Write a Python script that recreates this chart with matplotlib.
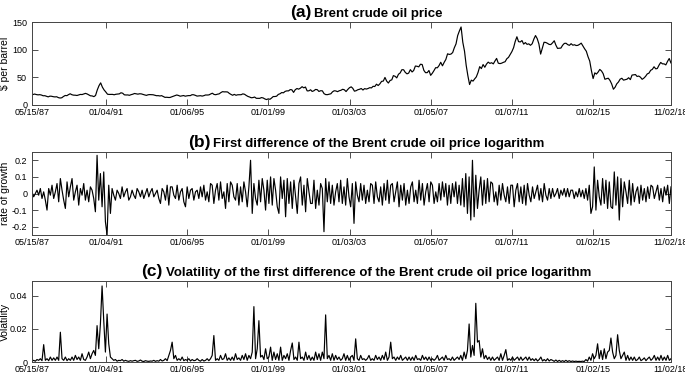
import matplotlib
matplotlib.use('Agg')
import matplotlib.pyplot as plt
import numpy as np
import pandas as pd
from matplotlib import font_manager
from matplotlib.offsetbox import TextArea, HPacker, AnchoredOffsetbox

names = {f.name for f in font_manager.fontManager.ttflist}
FONT = 'Liberation Sans' if 'Liberation Sans' in names else 'DejaVu Sans'

# (a) Brent price, monthly, $ per barrel (May 1987 .. Nov 2018)
price = [
    18.6, 18.9, 19.8, 18.9, 18.3, 18.7, 18.0, 16.7,
    16.8, 15.7, 14.7, 16.0, 15.8, 15.0, 14.6, 14.9, 13.3, 12.6, 13.1, 15.4,
    17.2, 16.9, 18.7, 20.3, 18.6, 17.8, 17.7, 17.2, 18.1, 19.1, 18.9, 19.9,
    21.0, 19.9, 18.4, 16.6, 16.4, 15.1, 17.2, 27.2, 34.9, 40.0, 32.3, 27.3,
    23.6, 19.5, 19.1, 19.2, 19.2, 18.5, 19.4, 19.7, 20.1, 22.1, 21.3, 18.4,
    18.1, 18.2, 17.5, 18.7, 19.5, 20.8, 20.2, 19.6, 20.3, 20.1, 19.1, 18.2,
    17.4, 18.5, 18.8, 18.6, 18.5, 17.7, 16.8, 16.9, 16.3, 16.9, 15.4, 13.8,
    14.0, 13.6, 13.6, 14.8, 16.0, 17.0, 18.1, 17.2, 15.9, 16.5, 17.1, 15.9,
    16.6, 17.0, 16.9, 18.6, 18.5, 17.4, 16.1, 16.4, 16.8, 16.1, 16.9, 18.1,
    18.0, 18.3, 19.9, 21.3, 19.1, 18.6, 19.5, 20.1, 22.4, 24.1, 23.7, 23.8,
    23.5, 20.9, 19.2, 17.6, 19.2, 17.6, 18.5, 18.6, 18.6, 20.1, 19.4, 17.3,
    15.5, 14.4, 13.1, 13.4, 14.4, 12.1, 12.0, 12.0, 13.4, 12.8, 11.0, 9.8,
    11.1, 10.3, 12.5, 15.3, 15.3, 15.9, 19.1, 20.3, 22.5, 22.0, 24.6, 25.5,
    25.5, 27.8, 27.5, 22.8, 27.6, 29.8, 28.6, 30.4, 33.1, 31.0, 32.5, 25.5,
    25.6, 27.5, 24.5, 25.7, 28.1, 27.7, 24.5, 25.8, 25.6, 20.5, 18.8, 18.7,
    19.4, 20.3, 23.7, 25.7, 25.4, 24.1, 25.7, 26.6, 28.4, 27.5, 24.3, 28.0,
    31.2, 32.8, 30.3, 25.0, 25.8, 27.6, 28.4, 29.8, 27.1, 29.6, 28.8, 29.8,
    31.3, 30.9, 33.8, 33.4, 37.6, 35.2, 38.2, 42.7, 43.2, 49.8, 43.1, 39.7,
    44.3, 45.5, 53.1, 51.9, 49.0, 55.6, 57.9, 63.8, 63.7, 59.0, 56.3, 57.6,
    63.9, 59.7, 62.3, 70.4, 70.0, 68.9, 73.7, 73.2, 62.5, 58.4, 58.5, 62.4,
    53.6, 57.6, 62.1, 67.5, 67.2, 71.3, 77.2, 70.8, 77.1, 82.3, 92.5, 91.4,
    92.0, 94.8, 103.3, 110.4, 125.5, 133.9, 141.0, 113.4, 97.2, 71.6, 52.5, 37.0,
    44.9, 43.2, 47.0, 50.8, 58.6, 69.3, 65.8, 73.1, 68.2, 73.9, 77.5, 75.2,
    76.4, 74.3, 79.3, 84.2, 75.6, 74.8, 75.6, 77.1, 78.2, 83.5, 86.1, 91.4,
    96.5, 103.7, 114.6, 123.3, 114.5, 113.9, 116.5, 110.1, 112.8, 109.6, 110.5, 107.9,
    110.7, 119.3, 125.5, 119.8, 110.3, 92.0, 102.6, 113.4, 113.0, 111.5, 109.5, 109.2,
    112.3, 116.1, 108.5, 102.3, 102.6, 102.9, 107.9, 111.3, 111.6, 109.1, 107.8, 110.8,
    108.1, 108.9, 107.5, 107.8, 109.5, 111.8, 106.8, 101.6, 97.1, 87.4, 79.4, 62.3,
    47.8, 58.1, 55.9, 59.5, 64.3, 61.5, 56.6, 46.5, 47.6, 48.4, 44.3, 38.0,
    28.5, 32.2, 38.2, 41.6, 46.7, 48.3, 44.9, 45.8, 46.6, 49.3, 45.9, 54.1,
    54.6, 55.0, 51.6, 52.3, 50.3, 46.4, 48.5, 51.7, 56.2, 57.5, 62.7, 64.4,
    69.1, 65.3, 66.0, 72.1, 76.9, 74.4, 74.3, 72.5, 78.9, 84.0, 76.0,
]

# (b) first difference of log price, in percent, evenly spaced samples
growth_pct = [
    1, -2, 0, 2, -1, 3, -3, 1, -4, -10, 3, -1,
    5, -3, 1, 6, -5, 9, 2, -4, -9, 7, -2, 4,
    9, -4, 1, 5, -7, 3, -1, 6, -4, 2, -5, 4,
    2, -3, -11, 23, -4, 12, -8, 13, -17, -25, 5, -12,
    3, -1, -4, 2, 0, -3, 4, -2, 1, 3, -4, -2,
    2, -1, -3, 3, 1, -2, 2, -3, 0, 3, -2, 1,
    3, -2, 0, 2, -3, -6, 3, 1, -4, 5, -7, 4,
    4, -1, -3, 5, -4, 1, 3, -5, -8, 4, -3, 2,
    3, -4, 1, 2, -3, 4, -2, 5, -4, 1, -5, 6,
    5, -6, 2, 6, -4, 7, -3, 1, -9, 6, -5, 7,
    5, -2, -4, 6, -7, 4, -5, 7, 1, -8, 4, 20,
    -12, 6, -3, -7, 8, -5, 9, 2, -10, 8, -6, 10,
    -7, 9, 2, -8, -12, 10, -3, 8, -14, 9, -6, 7,
    -9, 8, -2, -12, 6, 10, -7, 5, -11, 9, 1, -6,
    -6, 8, -9, 2, -7, 6, 3, -23, 9, -5, 7, -6,
    5, -7, 1, 6, -5, 8, -6, 4, -7, 9, -2, -8,
    6, -18, 7, -1, -5, 6, -4, 5, -6, 2, -5, 6,
    5, -6, 7, -2, -5, 4, -7, 6, -4, 8, -6, 5,
    6, -5, 1, 7, -8, 5, -4, 6, -7, 2, -6, 4,
    7, -5, 2, -6, 8, -4, 6, -7, 1, 6, -5, 7,
    5, -6, 1, -5, 6, -4, 7, -2, 6, -7, 5, -6,
    6, -2, 7, -6, 5, -7, 9, -8, 12, -12, 10, -16,
    20, -14, 11, -9, 2, 10, -7, 8, -6, 9, -5, 7,
    6, -5, 1, -7, 5, -4, 6, -1, -5, 4, -6, 5,
    5, -8, 2, 6, -5, 4, -6, 5, -7, 6, -1, -5,
    4, -3, 1, 5, -4, 3, -5, 6, -1, -4, 3, -3,
    3, -2, 0, 3, -3, 2, -1, 3, -2, 3, -2, 2,
    2, -3, 1, -2, 3, -2, 2, -3, 3, -4, 5, -12,
    -8, 16, -10, 8, -2, -7, 9, -6, 8, -9, 7, -8,
    -9, 13, -7, 10, -16, 9, -8, 7, 1, -6, 8, -7,
    6, -5, 1, 4, -6, 5, -4, 3, -5, 4, -3, 5,
    4, -3, 1, 5, -4, 3, -5, 4, -1, 5, -6, 4,
]

# (c) volatility, in units of 1e-3, evenly spaced samples
vol_milli = [
    0.5, 1, 0.5, 1.5, 1, 2, 0.8, 10.5, 1, 2, 0.8, 3,
    1, 2.5, 1, 3, 1, 18, 2, 1, 3, 0.8, 2, 1,
    3, 1, 4, 1.5, 3, 1, 5, 1.5, 1, 3, 6, 2,
    5, 7, 4, 22, 8, 23, 46, 25, 6, 29, 11, 3,
    2, 1, 1.5, 0.5, 1, 0.8, 1.5, 0.5, 1, 0.6, 0.4, 0.8,
    0.5, 0.8, 1, 0.4, 0.6, 1.2, 0.5, 0.3, 0.8, 0.5, 0.4, 0.6,
    0.5, 1, 0.4, 0.8, 0.5, 1.5, 0.6, 1, 2, 0.8, 4, 7,
    12, 2, 4, 1, 2, 1, 3, 0.8, 1.5, 1, 2, 0.6,
    1.5, 0.8, 1, 2, 1, 0.5, 1.5, 0.6, 1, 2, 0.8, 2,
    4, 16, 1, 2, 1, 4, 1.5, 2, 5, 1, 2.5, 1,
    3, 1, 5, 1.5, 2.5, 1, 4, 1.5, 5, 1, 4, 2,
    6, 33.5, 2, 8, 25, 3, 4, 1.5, 8, 2, 3, 9,
    1, 6, 1.5, 5, 1, 9, 1, 4, 2, 5, 1, 7,
    11.5, 1.5, 3, 1, 12, 2, 3, 1, 6, 1.5, 4, 1,
    3, 1, 6, 1.5, 5, 1, 6, 2, 28.5, 2, 4, 1,
    5, 1, 4, 1.5, 3, 1, 2, 5, 1, 4, 1, 3,
    4, 1, 14, 2, 1, 4, 1.5, 2, 1, 2, 4, 1,
    2, 1, 4, 1.5, 3, 1, 4, 1.5, 6, 1, 3, 12,
    2, 3, 1, 3, 1.5, 4, 1, 2, 3, 1, 3, 1,
    3, 1, 4, 1.5, 2, 1, 4, 1.5, 3, 1, 3, 1,
    2, 1, 2, 4, 1, 2, 3, 1, 4, 1.5, 2, 1,
    3, 1, 2, 3, 1.5, 4, 1, 6, 2, 7, 23, 3,
    10, 4, 35.5, 12, 13, 3, 8, 2, 4, 1.5, 3, 1,
    3, 1, 2, 3, 1, 5, 1, 4, 7.5, 1, 2, 1,
    3, 1, 2, 3, 1, 3, 1, 2, 3, 1, 3, 1,
    2, 0.8, 2, 0.6, 1.5, 3, 0.6, 1.5, 0.6, 2, 0.6, 1.5,
    1, 0.4, 1.2, 0.3, 1, 0.3, 0.8, 0.3, 1, 0.3, 0.8, 0.3,
    0.6, 0.3, 0.5, 0.3, 0.4, 0.3, 0.5, 0.3, 1.5, 0.5, 3, 1,
    5, 2, 4, 11, 2, 7, 1.5, 8, 2, 6, 7, 14.5,
    6, 2, 4, 16.5, 7, 2, 4, 6, 1, 4, 1, 3,
    1, 3, 0.8, 1.5, 3, 0.8, 1.5, 2.5, 0.8, 2, 3, 1,
    2, 4, 1, 3, 1, 4, 1, 3, 1, 4, 1, 2,
]

tick_dates = ['1987-05-15', '1991-01-04', '1995-01-06', '1999-01-01', '2003-01-03',
              '2007-01-05', '2011-01-07', '2015-01-02', '2018-11-02']
tick_labels_ab = ['05/15/87', '01/04/91', '01/06/95', '01/01/99', '01/03/03',
                  '01/05/07', '01/07/11', '01/02/15', '11/02/18']
tick_labels_c = ['05/15/87', '01/04/91', '01/06/95', '01/01/99', '01/03/01',
                 '01/05/07', '01/07/11', '01/02/15', '11/02/18']

price_dates = pd.date_range('1987-05-01', '2018-11-01', freq='MS')
growth = np.array(growth_pct) / 100.0
vol = np.array(vol_milli) / 1000.0
sample_dates = pd.date_range('1987-05-15', '2018-11-02', periods=len(growth))
vol_dates = pd.date_range('1987-05-15', '2018-11-02', periods=len(vol))

fig = plt.figure(figsize=(6.85, 3.75), dpi=100)
L, W = 32 / 685, 639 / 685
ax_a = fig.add_axes([L, 1 - 105 / 375, W, 83 / 375])
ax_b = fig.add_axes([L, 1 - 235 / 375, W, 83 / 375])
ax_c = fig.add_axes([L, 1 - 362 / 375, W, 81 / 375])

ax_a.plot(price_dates, price, color='black', lw=0.85)
ax_b.plot(sample_dates, growth, color='black', lw=0.85)
ax_c.plot(vol_dates, vol, color='black', lw=0.85)

ax_a.set_ylim(0, 150)
ax_a.set_yticks([0, 50, 100, 150])
ax_a.set_yticklabels(['0', '50', '100', '150'])
ax_b.set_ylim(-0.25, 0.25)
ax_b.set_yticks([-0.2, -0.1, 0, 0.1, 0.2])
ax_b.set_yticklabels(['-0.2', '-0.1', '0', '0.1', '0.2'])
ax_c.set_ylim(0, 0.049)
ax_c.set_yticks([0, 0.02, 0.04])
ax_c.set_yticklabels(['0', '0.02', '0.04'])

ylabels = ['\\$ per barrel', 'rate of growth', 'Volatility']
titles = [('(a)', 'Brent crude oil price'),
          ('(b)', 'First difference of the Brent crude oil price logarithm'),
          ('(c)', 'Volatility of the first difference of the Brent crude oil price logarithm')]

for ax, lab, ttl, tl in zip([ax_a, ax_b, ax_c], ylabels, titles,
                            [tick_labels_ab, tick_labels_ab, tick_labels_c]):
    ax.set_xlim(pd.Timestamp('1987-05-15'), pd.Timestamp('2018-11-02'))
    ax.set_xticks(pd.to_datetime(tick_dates))
    ax.set_xticklabels(tl, fontfamily=FONT, fontsize=6.5)
    for t in ax.get_yticklabels():
        t.set_fontfamily(FONT)
        t.set_fontsize(6.5)
    ax.tick_params(direction='in', top=True, right=True, length=4, width=0.6,
                   colors='#333333', labelcolor='black')
    ax.tick_params(axis='x', pad=2)
    ax.tick_params(axis='y', pad=3.5)
    ax.set_ylabel(lab, fontfamily=FONT, fontsize=7.5)
    ax.yaxis.set_label_coords(-0.035, 0.5)
    for s in ax.spines.values():
        s.set_color('#444444')
        s.set_linewidth(0.7)
    p1 = TextArea(ttl[0], textprops=dict(fontsize=12.5, fontfamily=FONT, fontweight='bold'))
    p2 = TextArea(ttl[1], textprops=dict(fontsize=9.5, fontfamily=FONT, fontweight='bold'))
    box = HPacker(children=[p1, p2], align='baseline', pad=0, sep=2)
    anch = AnchoredOffsetbox(loc='lower center', child=box, pad=0, frameon=False,
                             bbox_to_anchor=(0.523, 1.0), bbox_transform=ax.transAxes,
                             borderpad=0.15)
    ax.add_artist(anch)

fig.savefig('out.png', dpi=100)
